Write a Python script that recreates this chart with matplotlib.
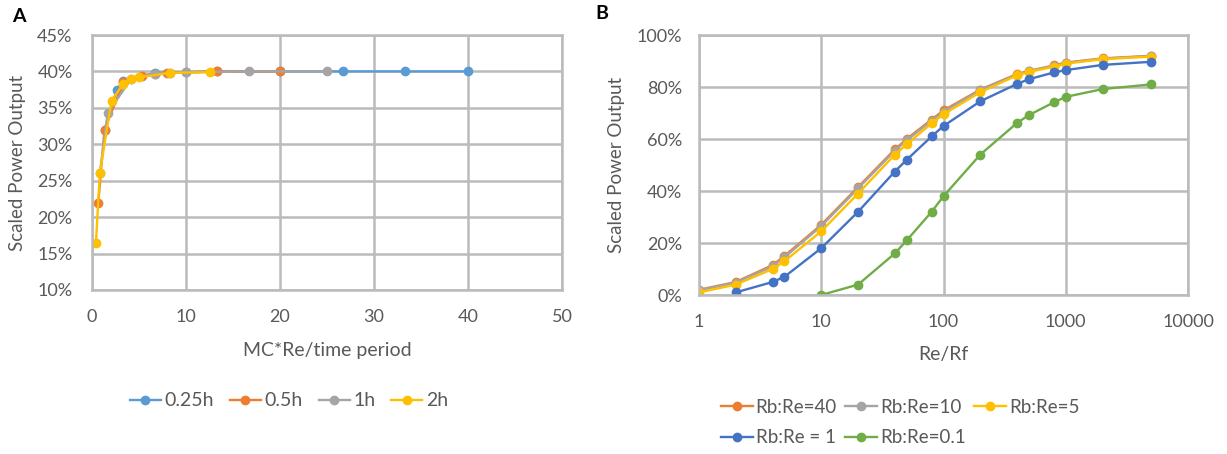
import matplotlib
matplotlib.use("Agg")
import matplotlib.pyplot as plt
from matplotlib.ticker import FuncFormatter, FixedLocator

plt.rcParams['font.family'] = ['Lato', 'DejaVu Sans']

# ---- Panel A data ----
a_labels = ["0.25h", "0.5h", "1h", "2h"]
a_x_025 = [1.33, 2.67, 3.33, 6.67, 10.0, 13.3, 20.0, 26.7, 33.3, 40.0]
a_y_025 = [32.0, 37.5, 38.7, 39.8, 39.9, 40.0, 40.0, 40.0, 40.0, 40.0]
a_x_05 = [0.67, 1.33, 3.33, 5.33, 6.67, 8.0, 13.3, 20.0]
a_y_05 = [22.0, 32.0, 38.5, 39.4, 39.7, 39.8, 40.0, 40.0]
a_x_1 = [0.83, 1.67, 4.17, 6.67, 8.33, 10.0, 16.7, 25.0]
a_y_1 = [26.0, 34.3, 39.0, 39.7, 39.8, 39.9, 40.0, 40.0]
a_x_2 = [0.42, 0.83, 2.08, 3.33, 4.17, 5.0, 8.33, 12.5]
a_y_2 = [16.5, 26.0, 36.0, 38.3, 39.0, 39.2, 39.8, 39.9]
a_colors = ["#5B9BD5", "#ED7D31", "#A5A5A5", "#FFC000"]
a_yticks = [10, 15, 20, 25, 30, 35, 40, 45]
a_xticks = [0, 10, 20, 30, 40, 50]

# ---- Panel B data ----
b_labels = ["Rb:Re=40", "Rb:Re=10", "Rb:Re=5", "Rb:Re = 1", "Rb:Re=0.1"]
b_x = [1, 2, 4, 5, 10, 20, 40, 50, 80, 100, 200, 400, 500, 800, 1000, 2000, 5000]
b_y_40 = [2.0, 5.0, 11.5, 15.0, 27.0, 41.5, 56.0, 60.0, 67.5, 71.0, 79.0, 85.0, 86.2, 88.3, 89.4, 91.0, 92.0]
b_y_10 = [1.8, 4.8, 11.0, 14.5, 26.5, 41.0, 55.5, 59.5, 67.0, 70.5, 78.8, 84.8, 86.0, 88.1, 89.2, 90.9, 91.9]
b_y_5 = [1.0, 4.0, 10.0, 13.0, 24.5, 39.0, 54.0, 58.0, 66.0, 69.5, 78.0, 84.5, 85.8, 87.8, 89.0, 90.7, 91.7]
b_x_1 = [2, 4, 5, 10, 20, 40, 50, 80, 100, 200, 400, 500, 800, 1000, 2000, 5000]
b_y_1 = [1.0, 5.0, 7.0, 18.0, 32.0, 47.5, 52.0, 61.0, 65.0, 74.5, 81.2, 83.0, 85.6, 86.5, 88.5, 89.7]
b_x_01 = [10, 20, 40, 50, 80, 100, 200, 400, 500, 800, 1000, 2000, 5000]
b_y_01 = [0.0, 4.0, 16.0, 21.0, 32.0, 38.0, 54.0, 66.2, 69.2, 74.1, 76.2, 79.2, 81.0]
b_colors = ["#ED7D31", "#A5A5A5", "#FFC000", "#4472C4", "#70AD47"]
b_yticks = [0, 20, 40, 60, 80, 100]
b_xticks = [1, 10, 100, 1000, 10000]

TXT = "#595959"
GRID = "#BBBBBB"

fig = plt.figure(figsize=(12.27, 4.54), dpi=100)

def style(ax):
    for s in ax.spines.values():
        s.set_color(GRID)
        s.set_linewidth(1.8)
    ax.grid(True, color=GRID, linewidth=1.8)
    ax.set_axisbelow(True)
    ax.tick_params(length=0, colors=TXT, labelsize=13)

pct = FuncFormatter(lambda v, p: f"{v:.0f}%")

# Panel A
axA = fig.add_axes([92/1227, 164/454, 470/1227, 255/454])
for xs, ys, c, lab in zip([a_x_025, a_x_05, a_x_1, a_x_2],
                          [a_y_025, a_y_05, a_y_1, a_y_2], a_colors, a_labels):
    axA.plot(xs, ys, color=c, lw=1.7, marker="o", ms=6, label=lab)
axA.set_xlim(0, 50)
axA.set_ylim(10, 45)
axA.set_xticks(a_xticks)
axA.set_yticks(a_yticks)
axA.yaxis.set_major_formatter(pct)
style(axA)
axA.tick_params(axis='x', pad=14)
axA.tick_params(axis='y', pad=14)
axA.set_xlabel("MC*Re/time period", color=TXT, fontsize=14)
axA.set_ylabel("Scaled Power Output", color=TXT, fontsize=13.5)
axA.xaxis.set_label_coords(0.5, -0.205)
axA.yaxis.set_label_coords(-0.140, 0.5)
fig.legend(*axA.get_legend_handles_labels(), loc="center",
           bbox_to_anchor=(289/1227, 53/454), ncol=4, frameon=False,
           fontsize=14, handlelength=1.6, handletextpad=0.2, columnspacing=0.8,
           borderpad=0, labelcolor=TXT)

# Panel B
axB = fig.add_axes([699/1227, 159/454, 489/1227, 260/454])
series_b = [(b_x, b_y_40), (b_x, b_y_10), (b_x, b_y_5), (b_x_1, b_y_1), (b_x_01, b_y_01)]
handles = []
for (xs, ys), c, lab in zip(series_b, b_colors, b_labels):
    h, = axB.plot(xs, ys, color=c, lw=1.7, marker="o", ms=6, label=lab)
    handles.append(h)
axB.set_xscale("log")
axB.set_xlim(1, 10000)
axB.set_ylim(0, 100)
axB.xaxis.set_major_locator(FixedLocator(b_xticks))
axB.xaxis.set_minor_locator(FixedLocator([]))
axB.xaxis.set_major_formatter(FuncFormatter(lambda v, p: f"{v:.0f}"))
axB.set_yticks(b_yticks)
axB.yaxis.set_major_formatter(pct)
style(axB)
axB.tick_params(axis='x', pad=14)
axB.tick_params(axis='y', pad=12)
axB.set_xlabel("Re/Rf", color=TXT, fontsize=14)
axB.set_ylabel("Scaled Power Output", color=TXT, fontsize=13.5)
axB.xaxis.set_label_coords(0.5, -0.198)
axB.yaxis.set_label_coords(-0.151, 0.5)
order = [0, 3, 1, 4, 2]
fig.legend([handles[i] for i in order], [b_labels[i] for i in order],
           loc="center left", bbox_to_anchor=(721/1227, 31.5/454), ncol=3, frameon=False,
           fontsize=13.5, handlelength=1.7, handletextpad=0.15, columnspacing=0.45,
           labelspacing=0.7, borderpad=0, borderaxespad=0, labelcolor=TXT)

fig.text(12/1227, 1 - 8/454, "A", fontsize=14, fontweight="bold", va="top", ha="left")
fig.text(595/1227, 1 - 5/454, "B", fontsize=14, fontweight="bold", va="top", ha="left")

fig.savefig("out.png", dpi=100)
